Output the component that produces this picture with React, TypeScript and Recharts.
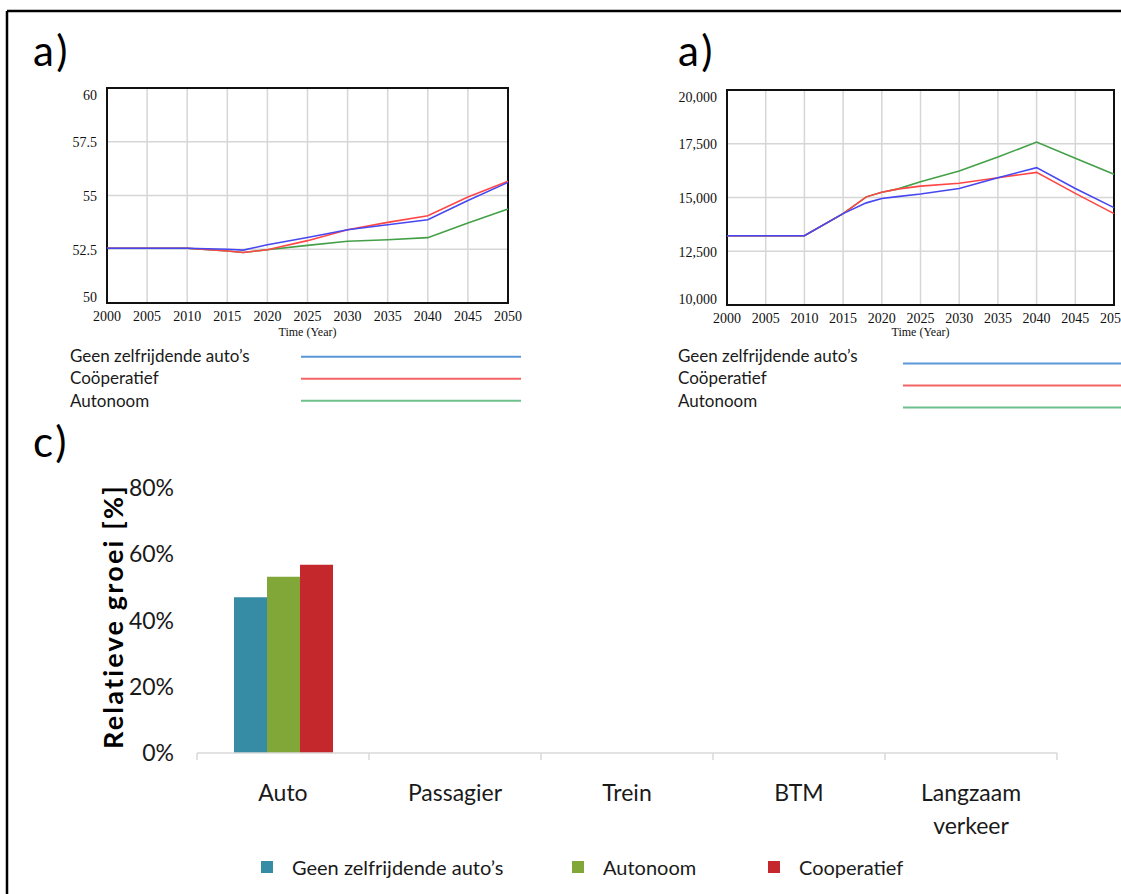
import React from 'react';
import { LineChart, Line, XAxis, YAxis, CartesianGrid, ReferenceArea, BarChart, Bar } from 'recharts';

// ---------- data ----------
const seriesNames = ["Geen zelfrijdende auto\u2019s", 'Co\u00f6peratief', 'Autonoom'];

const xTicks = [2000, 2005, 2010, 2015, 2020, 2025, 2030, 2035, 2040, 2045, 2050];

const leftYears = [2000, 2005, 2010, 2015, 2017, 2020, 2025, 2030, 2035, 2040, 2045, 2050];
const leftGeen = [52.55, 52.55, 52.55, 52.5, 52.46, 52.71, 53.05, 53.41, 53.64, 53.87, 54.77, 55.61];
const leftCoop = [52.55, 52.55, 52.55, 52.42, 52.35, 52.48, 52.9, 53.41, 53.75, 54.06, 54.93, 55.66];
const leftAuto = [52.55, 52.55, 52.55, 52.42, 52.35, 52.48, 52.68, 52.87, 52.94, 53.04, 53.72, 54.37];
const leftYTicks = [50, 52.5, 55, 57.5, 60];

const rightYears = [2000, 2005, 2010, 2015, 2018, 2020, 2022, 2025, 2030, 2035, 2040, 2045, 2050];
const rightGeen = [13220, 13220, 13220, 14250, 14750, 14950, 15040, 15160, 15420, 15920, 16390, 15420, 14530];
const rightCoop = [13220, 13220, 13220, 14250, 15030, 15240, 15390, 15530, 15660, 15920, 16170, 15190, 14250];
const rightAuto = [13220, 13220, 13220, 14250, 15030, 15240, 15390, 15730, 16230, 16880, 17580, 16830, 16080];
const rightYTicks = [10000, 12500, 15000, 17500, 20000];

const barCategories = ['Auto', 'Passagier', 'Trein', 'BTM', 'Langzaam verkeer'];
const barGeen = [0.47, null, null, null, null];
const barAuto = [0.532, null, null, null, null];
const barCoop = [0.568, null, null, null, null];
const barYTicks = [0, 0.2, 0.4, 0.6, 0.8];
const barNames = ["Geen zelfrijdende auto\u2019s", 'Autonoom', 'Cooperatief'];

// ---------- styles ----------
const lineColors = ['#4747F2', '#FF4646', '#43A047'];
const legendLineColors = ['#5A97D8', '#F46464', '#6CC18C'];
const barColors = ['#378CA5', '#80A738', '#C4282D'];
const SERIF = "'Liberation Serif', 'Times New Roman', serif";
const SANS = "Lato, 'Open Sans', sans-serif";
const PLOT_H = 215;

const leftData = leftYears.map((year, i) => ({ year, geen: leftGeen[i], coop: leftCoop[i], auto: leftAuto[i] }));
const rightData = rightYears.map((year, i) => ({ year, geen: rightGeen[i], coop: rightCoop[i], auto: rightAuto[i] }));
const barData = barCategories.map((category, i) => ({ category, geen: barGeen[i], auto: barAuto[i], coop: barCoop[i] }));

const makeYTick = (min: number, max: number, fmt: (v: number) => string) => (props: any) => {
  const { x, y, payload } = props;
  const v = payload.value;
  const dy = v === max ? 7 : v === min ? -6 : 1;
  return (
    <text x={x} y={y + dy} textAnchor="end" dominantBaseline="central" fontFamily={SERIF} fontSize={14} fill="#111">
      {fmt(v)}
    </text>
  );
};

const BAR_W = 1121;
const BAR_MARGIN = { top: 48, right: 64, left: 0, bottom: 0 };
const BAR_YW = 197;
const BAND = (BAR_W - BAR_MARGIN.right - BAR_MARGIN.left - BAR_YW) / barCategories.length;

const BarTick = (props: any) => {
  const { x, y, payload, index } = props;
  const label: string = String(payload.value);
  const lines = label.length > 12 ? label.split(' ') : [label];
  return (
    <g>
      <line x1={x - BAND / 2} x2={x - BAND / 2} y1={y} y2={y + 7} stroke="#D9D9D9" strokeWidth={1.5} />
      {index === barCategories.length - 1 && (
        <line x1={x + BAND / 2} x2={x + BAND / 2} y1={y} y2={y + 7} stroke="#D9D9D9" strokeWidth={1.5} />
      )}
      <text x={x} y={y + 40} textAnchor="middle" fontFamily={SANS} fontSize={23} fill="#1a1a1a">
        {lines.map((l, i) => (
          <tspan key={i} x={x} dy={i === 0 ? '0.35em' : 33}>{l}</tspan>
        ))}
      </text>
    </g>
  );
};

const VensimChart = ({ data, yTicks, left, top, width, height, margin, yWidth, fmt }: any) => {
  const min = yTicks[0];
  const max = yTicks[yTicks.length - 1];
  return (
    <div style={{ position: 'absolute', left, top }}>
      <LineChart width={width} height={height} data={data} margin={margin}>
        <CartesianGrid stroke="#D6D6D6" strokeWidth={1.5} />
        <XAxis
          dataKey="year"
          type="number"
          domain={[xTicks[0], xTicks[xTicks.length - 1]]}
          ticks={xTicks}
          interval={0}
          height={height - margin.top - PLOT_H - margin.bottom}
          axisLine={false}
          tickLine={false}
          tickSize={0}
          tickMargin={8}
          tick={{ fontFamily: SERIF, fontSize: 14, fill: '#111' }}
          label={{ value: 'Time (Year)', position: 'insideBottom', offset: 9, style: { fontFamily: SERIF, fontSize: 12, fill: '#111' } }}
        />
        <YAxis
          type="number"
          domain={[min, max]}
          ticks={yTicks}
          interval={0}
          width={yWidth}
          axisLine={false}
          tickLine={false}
          tickSize={0}
          tickMargin={10}
          tick={makeYTick(min, max, fmt)}
        />
        <ReferenceArea x1={xTicks[0]} x2={xTicks[xTicks.length - 1]} y1={min} y2={max} fill="none" fillOpacity={0} stroke="#111" strokeWidth={2} strokeOpacity={1} />
        <Line dataKey="auto" stroke={lineColors[2]} strokeWidth={1.6} dot={false} isAnimationActive={false} />
        <Line dataKey="coop" stroke={lineColors[1]} strokeWidth={1.6} dot={false} isAnimationActive={false} />
        <Line dataKey="geen" stroke={lineColors[0]} strokeWidth={1.6} dot={false} isAnimationActive={false} />
      </LineChart>
    </div>
  );
};

const VensimLegend = ({ textX, textY, lineX1, lineX2, lineY }: any) => (
  <g>
    {seriesNames.map((name, i) => (
      <g key={name}>
        <text x={textX} y={textY + i * 22.5} dominantBaseline="central" fontFamily={SANS} fontSize={17} fill="#1a1a1a">{name}</text>
        <line x1={lineX1} x2={lineX2} y1={lineY + i * 22} y2={lineY + i * 22} stroke={legendLineColors[i]} strokeWidth={2} />
      </g>
    ))}
  </g>
);

const barLegendX = [261, 572, 768];

export default function App() {
  return (
    <div style={{ position: 'absolute', left: 0, top: 0, width: 1121, height: 894, overflow: 'hidden', background: '#fff' }}>
      <VensimChart data={leftData} yTicks={leftYTicks} left={0} top={0} width={560} height={345}
        margin={{ top: 88, right: 52, left: 0, bottom: 0 }} yWidth={107} fmt={(v: number) => String(v)} />
      <VensimChart data={rightData} yTicks={rightYTicks} left={560} top={0} width={561} height={345}
        margin={{ top: 90, right: 7, left: 0, bottom: 0 }} yWidth={167} fmt={(v: number) => v.toLocaleString('en-US')} />

      <div style={{ position: 'absolute', left: 0, top: 440 }}>
        <BarChart width={BAR_W} height={420} data={barData} margin={BAR_MARGIN} barGap={0} barSize={33}>
          <XAxis
            dataKey="category"
            interval={0}
            height={107}
            axisLine={{ stroke: '#D9D9D9', strokeWidth: 1.5 }}
            tickLine={false}
            tickSize={0}
            tickMargin={0}
            tick={<BarTick />}
          />
          <YAxis
            type="number"
            domain={[0, 0.8]}
            ticks={barYTicks}
            interval={0}
            width={BAR_YW}
            axisLine={false}
            tickLine={false}
            tickSize={0}
            tickMargin={23}
            tickFormatter={(v: number) => `${Math.round(v * 100)}%`}
            tick={{ fontFamily: SANS, fontSize: 23, fill: '#1a1a1a' }}
            label={(p: any) => {
              const vb = p.viewBox || { x: 0, y: 48, width: 197, height: 265 };
              const cx = vb.x + 112;
              const cy = vb.y + vb.height / 2 - 4;
              return (
                <text x={cx} y={cy} transform={`rotate(-90, ${cx}, ${cy})`} textAnchor="middle" dominantBaseline="central"
                  fontFamily={SANS} fontWeight={700} fontSize={27} letterSpacing={2.2} fill="#000">Relatieve groei [%]</text>
              );
            }}
          />
          <Bar dataKey="geen" fill={barColors[0]} isAnimationActive={false} />
          <Bar dataKey="auto" fill={barColors[1]} isAnimationActive={false} />
          <Bar dataKey="coop" fill={barColors[2]} isAnimationActive={false} />
        </BarChart>
      </div>

      <svg width={1121} height={894} style={{ position: 'absolute', left: 0, top: 0, pointerEvents: 'none' }}>
        <line x1={7} y1={11} x2={1121} y2={11} stroke="#000" strokeWidth={2.5} />
        <line x1={7} y1={11} x2={7} y2={894} stroke="#000" strokeWidth={2.5} />
        <text x={33} y={50} dominantBaseline="central" fontFamily={SANS} fontSize={42} letterSpacing={3} fill="#000">a)</text>
        <text x={678} y={50} dominantBaseline="central" fontFamily={SANS} fontSize={42} letterSpacing={3} fill="#000">a)</text>
        <text x={33} y={441} dominantBaseline="central" fontFamily={SANS} fontSize={42} letterSpacing={3} fill="#000">c)</text>
        <VensimLegend textX={70} textY={355} lineX1={301} lineX2={521} lineY={356.7} />
        <VensimLegend textX={678} textY={355} lineX1={903} lineX2={1121} lineY={363.5} />
        {barNames.map((name, i) => (
          <g key={name}>
            <rect x={barLegendX[i]} y={861} width={12} height={12} fill={barColors[i]} />
            <text x={barLegendX[i] + 31} y={867} dominantBaseline="central" fontFamily={SANS} fontSize={20} fill="#1a1a1a">{name}</text>
          </g>
        ))}
      </svg>
    </div>
  );
}
